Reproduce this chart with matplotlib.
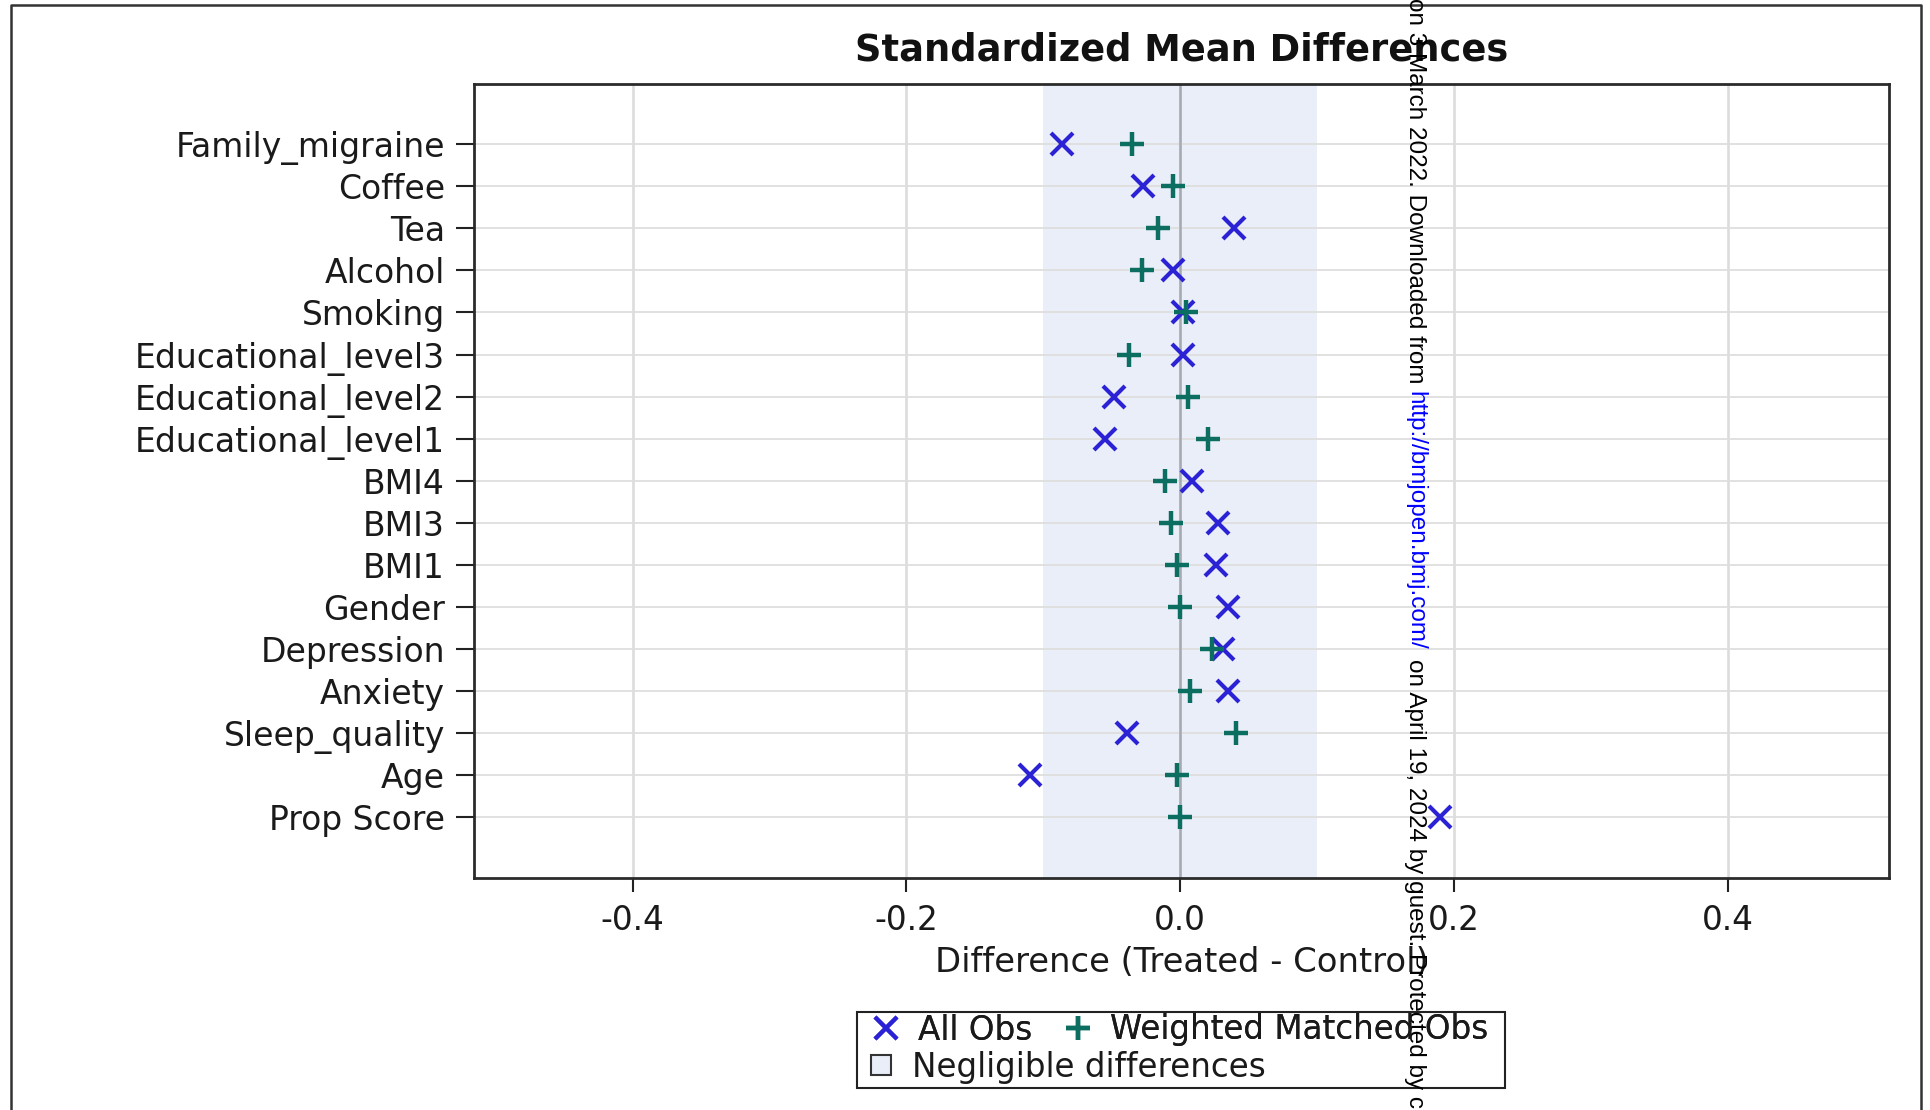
import numpy as np
import matplotlib.pyplot as plt
from matplotlib.lines import Line2D
from matplotlib.patches import Patch, Rectangle

plt.rcParams['font.family'] = ['DejaVu Sans']
plt.rcParams['axes.unicode_minus'] = False

covariates = ['Family_migraine', 'Coffee', 'Tea', 'Alcohol', 'Smoking',
              'Educational_level3', 'Educational_level2', 'Educational_level1',
              'BMI4', 'BMI3', 'BMI1', 'Gender', 'Depression', 'Anxiety',
              'Sleep_quality', 'Age', 'Prop Score']
all_obs = [-0.086, -0.027, 0.039, -0.005, 0.002, 0.002, -0.048, -0.055,
           0.009, 0.028, 0.026, 0.035, 0.031, 0.035, -0.039, -0.110, 0.190]
weighted = [-0.035, -0.005, -0.016, -0.028, 0.004, -0.037, 0.006, 0.020,
            -0.011, -0.007, -0.002, 0.000, 0.023, 0.007, 0.041, -0.002, 0.000]
xticks = [-0.4, -0.2, 0.0, 0.2, 0.4]
negligible = (-0.1, 0.1)

blue = '#2b22d6'
green = '#0b6e60'
band = '#e9eef8'

W, H = 1930, 1110
fig = plt.figure(figsize=(W / 100, H / 100), dpi=100)
ax = fig.add_axes([474 / W, 1 - 878 / H, (1889 - 474) / W, (878 - 84) / H])

ypos = np.arange(len(covariates))
ax.axvspan(*negligible, color=band, lw=0, zorder=0.1)
ax.set_axisbelow(True)
ax.grid(axis='y', color='#dedede', lw=1.3)
ax.grid(axis='x', color='#dcdcdc', lw=1.9)
ax.axvline(0, color='#a5a9b0', lw=1.8, zorder=0.6)

ax.plot(all_obs, ypos, ls='none', marker='x', ms=15.5, mew=3, color=blue, zorder=3)
ax.plot(weighted, ypos, ls='none', marker='+', ms=17, mew=3.2, color=green, zorder=3)

ax.set_xlim(-0.516, 0.518)
ax.set_ylim(len(covariates) - 1 + 1.44, -1.43)
ax.set_xticks(xticks)
ax.set_xticklabels([f'{t:.1f}' for t in xticks])
ax.set_yticks(ypos)
ax.set_yticklabels(covariates)
ax.tick_params(axis='y', length=13, width=1.5, pad=8, labelsize=23.8,
               color='#222222', labelcolor='#1a1a1a')
ax.tick_params(axis='x', length=10, width=1.5, pad=9, labelsize=23.5,
               color='#222222', labelcolor='#1a1a1a')
for s in ax.spines.values():
    s.set_linewidth(2)
    s.set_color('#2b2b2b')

ax.set_xlabel('Difference (Treated - Control)', fontsize=24.4, color='#1a1a1a', va='center')
ax.xaxis.set_label_coords(0.5, -0.106)

fig.text(1181.5 / W, 1 - 50 / H, 'Standardized Mean Differences', fontsize=26.5,
         fontweight='bold', ha='center', va='center', color='#111111')

# legend: two markers on the first row, the band swatch on the second
h_all = Line2D([], [], ls='none', marker='x', ms=15.5, mew=3, color=blue)
h_wt = Line2D([], [], ls='none', marker='+', ms=17, mew=3.2, color=green)
leg1 = fig.legend([h_all, h_wt], ['All Obs', 'Weighted Matched Obs'], ncol=2,
                  loc='center left', bbox_to_anchor=(869.6 / W, 1 - 1030 / H),
                  frameon=False, fontsize=23.5, borderpad=0, borderaxespad=0,
                  handlelength=1.0, handletextpad=0.48, columnspacing=0.9,
                  labelcolor='#1a1a1a')
fig.legend([Patch(facecolor=band, edgecolor='#333333', lw=1.5)],
           ['Negligible differences'],
           loc='center left', bbox_to_anchor=(871 / W, 1 - 1067 / H),
           frameon=False, fontsize=23.5, borderpad=0, borderaxespad=0,
           handlelength=0.61, handleheight=0.61, handletextpad=0.64,
           labelcolor='#1a1a1a')
fig.add_artist(leg1)
fig.add_artist(Rectangle((857 / W, 1 - 1088 / H), 648 / W, 76 / H, fill=False,
                         lw=1.5, edgecolor='#222222', transform=fig.transFigure))

# page border (left, top, right)
fig.add_artist(Line2D([11 / W, 11 / W, 1921 / W, 1921 / W], [0, 1 - 5 / H, 1 - 5 / H, 0],
                      color='#333333', lw=1.8, transform=fig.transFigure))

# vertical download notice running down the page
wx = 1415 / W
fig.text(wx, 1 - 383 / H, 'on 3 March 2022. Downloaded from', rotation=-90,
         fontsize=17.5, family='Liberation Sans', ha='center', va='bottom', color='black')
fig.text(wx, 1 - 391 / H, 'http://bmjopen.bmj.com/', rotation=-90,
         fontsize=17.5, family='Liberation Sans', ha='center', va='top', color='#0000ff')
fig.text(wx, 1 - 659 / H, 'on April 19, 2024 by guest. Protected by copyright.', rotation=-90,
         fontsize=17.5, family='Liberation Sans', ha='center', va='top', color='black')

fig.savefig('out.png', dpi=100, facecolor='white')
